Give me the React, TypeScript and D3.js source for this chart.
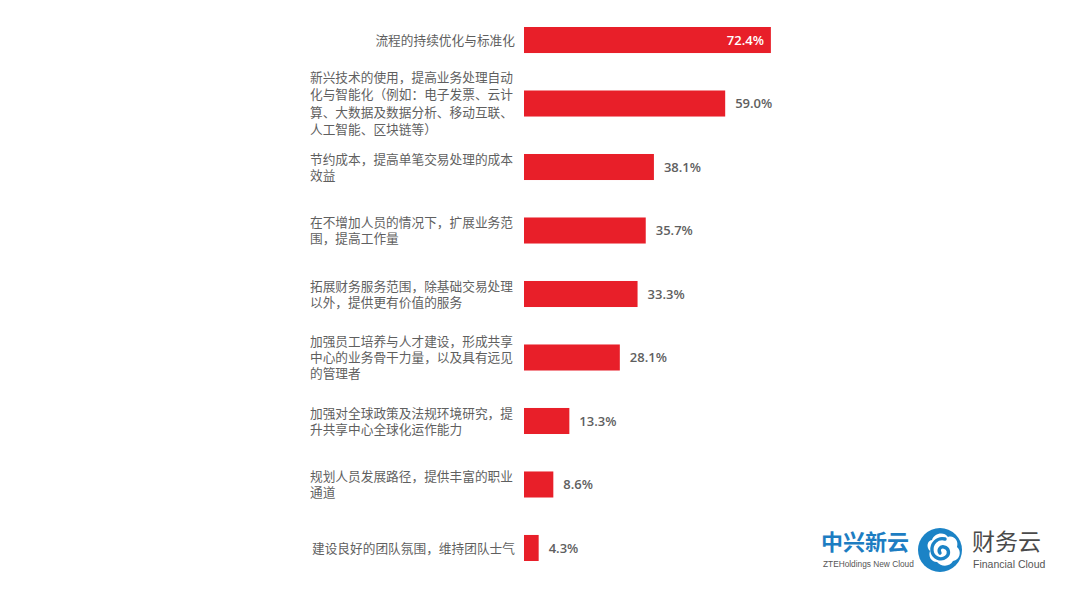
import React, { useEffect, useRef } from "react";
import * as d3 from "d3";

// category labels, already split into the lines shown on the chart
const categories: string[][] = [
  ["流程的持续优化与标准化"],
  [
    "新兴技术的使用，提高业务处理自动",
    "化与智能化（例如：电子发票、云计",
    "算、大数据及数据分析、移动互联、",
    "人工智能、区块链等）",
  ],
  ["节约成本，提高单笔交易处理的成本", "效益"],
  ["在不增加人员的情况下，扩展业务范", "围，提高工作量"],
  ["拓展财务服务范围，除基础交易处理", "以外，提供更有价值的服务"],
  ["加强员工培养与人才建设，形成共享", "中心的业务骨干力量，以及具有远见", "的管理者"],
  ["加强对全球政策及法规环境研究，提", "升共享中心全球化运作能力"],
  ["规划人员发展路径，提供丰富的职业", "通道"],
  ["建设良好的团队氛围，维持团队士气"],
];

const values: number[] = [72.4, 59.0, 38.1, 35.7, 33.3, 28.1, 13.3, 8.6, 4.3];

const width = 1080;
const height = 607;
const barLeft = 524;
const labelLeft = 310;
const labelRight = 515;
const red = "#e81f29";
const gray = "#5f5f5f";
const cjk = "'Noto Sans CJK SC', 'Noto Sans', sans-serif";

export default function App() {
  const ref = useRef<SVGSVGElement | null>(null);

  useEffect(() => {
    const svg = d3.select(ref.current);
    svg.selectAll("*").remove();

    const x = d3.scaleLinear().domain([0, 100]).range([barLeft, barLeft + 341]);
    const y = d3
      .scaleBand<number>()
      .domain(d3.range(values.length))
      .range([27, 561])
      .paddingInner(0.59)
      .paddingOuter(0);

    const maxV = d3.max(values) as number;

    const row = svg
      .selectAll("g.row")
      .data(values)
      .enter()
      .append("g")
      .attr("class", "row");

    // bars
    row
      .append("rect")
      .attr("x", x(0))
      .attr("y", (d, i) => y(i) as number)
      .attr("width", (d) => x(d) - x(0))
      .attr("height", y.bandwidth())
      .attr("fill", red);

    // value labels (the longest bar carries its label inside)
    row
      .append("text")
      .attr("x", (d) => (d === maxV ? x(d) - 7 : x(d) + 10))
      .attr("y", (d, i) => (y(i) as number) + y.bandwidth() / 2)
      .attr("dy", "0.36em")
      .attr("text-anchor", (d) => (d === maxV ? "end" : "start"))
      .attr("fill", (d) => (d === maxV ? "#fff" : gray))
      .style("font-family", "'Open Sans', sans-serif")
      .style("font-weight", 600)
      .style("font-size", "13px")
      .text((d) => d.toFixed(1) + "%");

    // category labels
    row.each(function (d, i) {
      const lines = categories[i];
      const lh = lines.length > 3 ? 17.5 : 16;
      const cy = (y(i) as number) + y.bandwidth() / 2;
      const single = lines.length === 1;
      const t = d3
        .select(this)
        .append("text")
        .attr("fill", gray)
        .attr("text-anchor", single ? "end" : "start")
        .style("font-family", cjk)
        .style("font-size", "12.7px");
      lines.forEach((line, k) => {
        t.append("tspan")
          .attr("x", single ? labelRight : labelLeft)
          .attr("y", cy + (k - (lines.length - 1) / 2) * lh)
          .attr("dy", "0.36em")
          .text(line);
      });
    });

    // logo
    const logo = svg.append("g");
    logo
      .append("text")
      .attr("x", 821)
      .attr("y", 550)
      .attr("fill", "#1d7dc2")
      .style("font-family", cjk)
      .style("font-size", "22px")
      .style("font-weight", 700)
      .text("中兴新云");
    logo
      .append("text")
      .attr("x", 823)
      .attr("y", 567)
      .attr("fill", "#555")
      .style("font-family", "'Liberation Sans', Arial, sans-serif")
      .style("font-size", "8.3px")
      .text("ZTEHoldings New Cloud");

    const icon = logo.append("g").attr("transform", "translate(940,550)");
    icon.append("circle").attr("r", 22).attr("fill", "#1b83c6");
    // white cloud on the upper right
    icon
      .append("path")
      .attr(
        "d",
        "M-8,-10 C-6,-17 4,-19 8,-13 C14,-15 19,-9 17,-3 C22,1 20,10 13,11 C10,17 1,17 -3,12 C-9,12 -12,6 -10,1 C-14,-3 -13,-9 -8,-10 Z"
      )
      .attr("fill", "#fff");
    // blue swirl
    icon
      .append("path")
      .attr(
        "d",
        "M5,-11 C-3,-13 -9,-6 -8,1 C-7,8 1,11 6,7 C10,4 9,-2 4,-3 C0,-4 -2,0 0,3"
      )
      .attr("fill", "none")
      .attr("stroke", "#1b83c6")
      .attr("stroke-width", 3.4)
      .attr("stroke-linecap", "round");

    logo
      .append("text")
      .attr("x", 972)
      .attr("y", 550)
      .attr("fill", "#4a4a4a")
      .style("font-family", cjk)
      .style("font-size", "23px")
      .text("财务云");
    logo
      .append("text")
      .attr("x", 973)
      .attr("y", 568)
      .attr("fill", "#555")
      .style("font-family", "'Liberation Sans', Arial, sans-serif")
      .style("font-size", "10.5px")
      .text("Financial Cloud");
  }, []);

  return (
    <svg
      ref={ref}
      width={width}
      height={height}
      style={{ position: "absolute", left: 0, top: 0, background: "#fff" }}
    />
  );
}
